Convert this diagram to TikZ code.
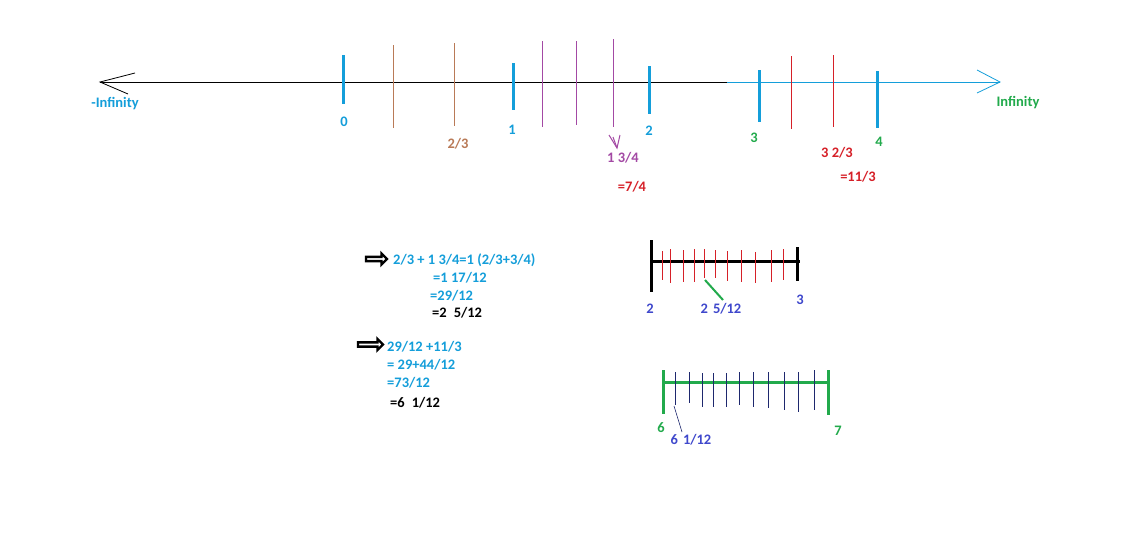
\documentclass[tikz,border=0pt]{standalone}
\usepackage{fontspec}
\setmainfont{Carlito}
\usetikzlibrary{shapes.arrows}
\definecolor{markblue}{RGB}{20,158,218}
\definecolor{markgreen}{RGB}{34,170,76}
\definecolor{markred}{RGB}{214,32,40}
\definecolor{markpurple}{RGB}{163,73,164}
\definecolor{markbrown}{RGB}{185,122,87}
\definecolor{markindigo}{RGB}{63,72,204}
\definecolor{marknavy}{RGB}{30,40,110}

\begin{document}
\begin{tikzpicture}[
    x=1pt, y=-1pt,
    lbl/.style={font=\bfseries\fontsize{14.5}{16}\selectfont, inner sep=0pt},
    eqn/.style={lbl, anchor=west, text=markblue},
    major/.style={line width=3pt, draw=markblue},
    minor/.style={line width=1pt},
    hollow/.style={single arrow, draw=black, line width=2.4pt, minimum width=11pt,
                   single arrow head extend=2pt, inner sep=0pt}
  ]
    \useasboundingbox[fill=white] (0,0) rectangle (1129,536);

    % main number line
    \coordinate (west) at (100,82);
    \coordinate (mid)  at (727,82);
    \coordinate (east) at (1000,82);
    \draw[line width=1pt] (west) -- (mid);
    \draw[line width=1pt, markblue] (mid) -- (east);
    \draw[line width=0.8pt] (135,73) -- (west) -- (128,94);
    \draw[line width=0.8pt, markblue] (977,70) -- (east) -- (977,93);

    % whole numbers
    \foreach \x/\ya/\yb in {343/55/104, 513/63/110, 649/66/114, 759/70/122, 877/71/128}
      \draw[major] (\x,\ya) -- (\x,\yb);
    % thirds, quarters, thirds
    \foreach \x/\ya/\yb in {393/45/128, 454/43/126}
      \draw[minor, markbrown] (\x,\ya) -- (\x,\yb);
    \foreach \x/\ya/\yb in {542/41/127, 576/41/125, 613/39/127}
      \draw[minor, markpurple] (\x,\ya) -- (\x,\yb);
    \foreach \x/\ya/\yb in {791/56/129, 833/55/127}
      \draw[minor, markred] (\x,\ya) -- (\x,\yb);
    \draw[minor, markpurple] (609,135) -- (617,148) -- (620,135);
    \draw[minor, markpurple] (613,137) -- (617,148);

    \node[lbl, text=markblue]   (minf)  at (115,104)  {-Infinity};
    \node[lbl, text=markgreen]  (pinf)  at (1018,103) {Infinity};
    \node[lbl, text=markblue]   (zero)  at (344,122)  {0};
    \node[lbl, text=markblue]   (one)   at (512,130)  {1};
    \node[lbl, text=markblue]   (two)   at (649,131)  {2};
    \node[lbl, text=markgreen]  (three) at (754,138)  {3};
    \node[lbl, text=markgreen]  (four)  at (879,142)  {4};
    \node[lbl, text=markbrown]  (twoth) at (458,144)  {2/3};
    \node[lbl, text=markpurple] (onetq) at (623,158)  {1 3/4};
    \node[lbl, text=markred]    (seveq) at (632,187)  {=7/4};
    \node[lbl, text=markred]    (thrtt) at (837,153)  {3 2/3};
    \node[lbl, text=markred]    (elevt) at (858,177)  {=11/3};

    % first sum
    \node[hollow, minimum height=21pt] (arrA) at (375.5,259) {};
    \node[eqn] (sumA1) at (393,260) {2/3 + 1 3/4=1 (2/3+3/4)};
    \node[eqn] (sumA2) at (433,278) {=1 17/12};
    \node[eqn] (sumA3) at (430,296) {=29/12};
    \node[eqn, text=black] (sumA4) at (432,313) {=2\hspace{7pt}5/12};

    % second sum
    \node[hollow, minimum height=25pt] (arrB) at (369.5,344.5) {};
    \node[eqn] (sumB1) at (387,347) {29/12 +11/3};
    \node[eqn] (sumB2) at (387,365) {= 29+44/12};
    \node[eqn] (sumB3) at (387,383) {=73/12};
    \node[eqn, text=black] (sumB4) at (390,403) {=6\hspace{7pt}1/12};

    % scale from 2 to 3
    \draw[line width=3pt] (651,261) -- (800,261);
    \draw[line width=3pt] (651,240) -- (651,292);
    \draw[line width=3pt] (797,247) -- (797,281);
    \foreach \x/\ya/\yb in {662/251/280, 670/249/283, 683/250/282, 694/249/282,
                            704/249/278, 715/250/278, 727/251/281, 741/250/282,
                            755/252/283, 771/250/282, 783/249/280}
      \draw[minor, markred] (\x,\ya) -- (\x,\yb);
    \node[lbl, text=markindigo] (lowA)  at (650,309) {2};
    \node[lbl, text=markindigo] (highA) at (800,300) {3};
    \node[lbl, text=markindigo] (fiveA) at (721,309) {2\hspace{5pt}5/12};
    \coordinate (tickA) at (705,280);
    \coordinate (tipA)  at (723,300);
    \draw[line width=2pt, markgreen] (tickA) -- (tipA);

    % scale from 6 to 7
    \draw[line width=3pt, markgreen] (663,382) -- (828,382);
    \draw[line width=3pt, markgreen] (663,370) -- (663,414);
    \draw[line width=3pt, markgreen] (828,370) -- (828,415);
    \foreach \x/\ya/\yb in {675/372/405, 689/372/403, 702/373/407, 713/373/407,
                            726/373/407, 739/372/405, 753/372/407, 768/372/408,
                            784/372/410, 798/372/412, 814/370/410}
      \draw[minor, marknavy] (\x,\ya) -- (\x,\yb);
    \node[lbl, text=markgreen]  (lowB)  at (661,428) {6};
    \node[lbl, text=markgreen]  (highB) at (838,431) {7};
    \node[lbl, text=markindigo] (oneB)  at (691,440) {6\hspace{5pt}1/12};
    \coordinate (tickB) at (674,406);
    \coordinate (tipB)  at (682,432);
    \draw[line width=0.6pt, marknavy] (tickB) -- (tipB);
  \end{tikzpicture}
\end{document}
